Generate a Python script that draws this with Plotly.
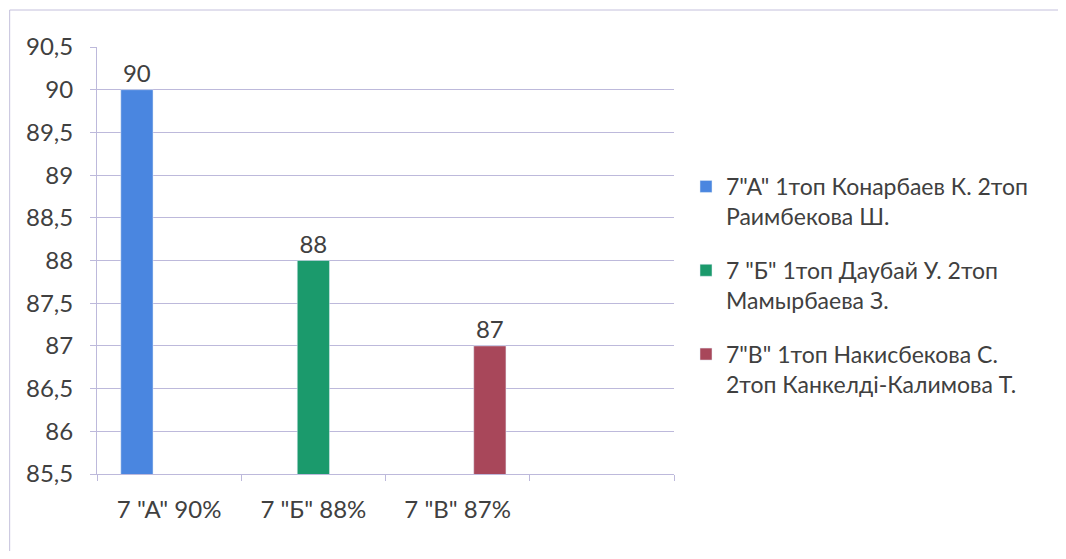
import plotly.graph_objects as go

categories = ['7 "А" 90%', '7 "Б" 88%', '7 "В" 87%', ' ']
series_names = [
    '7"А" 1топ Конарбаев К. 2топ<br>Раимбекова Ш.',
    '7 "Б" 1топ Даубай У. 2топ<br>Мамырбаева З.',
    '7"В" 1топ Накисбекова С.<br>2топ Канкелді-Калимова Т.',
]
series_values = [
    [90, None, None, None],
    [None, 88, None, None],
    [None, None, 87, None],
]
series_colors = ['#4a86e0', '#1b9a6c', '#a8475a']
y_tickvals = [85.5, 86, 86.5, 87, 87.5, 88, 88.5, 89, 89.5, 90, 90.5]
y_ticktext = ['85,5', '86', '86,5', '87', '87,5', '88', '88,5', '89', '89,5', '90', '90,5']

# page has 8px body margin; work in screen pixels, convert to figure pixels
OFF = 8
W, H = 1066 - OFF, 559 - 2 * OFF
plot_left, plot_right, plot_top, plot_bottom = 97, 685, 47, 474
L = plot_left - OFF
R = W - (plot_right - OFF)
T = plot_top - OFF
B = H - (plot_bottom - OFF)
grid = '#bdb9db'
font_fam = 'Lato, Open Sans, sans-serif'
txt = '#404040'

fig = go.Figure()
for i, (name, vals, col) in enumerate(zip(series_names, series_values, series_colors)):
    fig.add_trace(go.Bar(
        x=categories, y=vals, name=name, marker_color=col,
        legendgroup='g%d' % i,
        text=[('%g' % v) if v is not None else '' for v in vals],
        textposition='outside', textfont=dict(size=24, color=txt, family=font_fam),
        cliponaxis=False,
    ))

pw = plot_right - plot_left
ph = plot_bottom - plot_top
def px2x(p):
    return (p - plot_left) / pw
def px2y(p):
    return (plot_bottom - p) / ph

border = '#c4c0dc'
fig.update_layout(
    width=W, height=H,
    margin=dict(l=L, r=R, t=T, b=B),
    paper_bgcolor='white', plot_bgcolor='white',
    barmode='group', bargap=0.33, bargroupgap=0,
    separators=', ',
    font=dict(family=font_fam, size=24, color=txt),
    xaxis=dict(
        type='category', categoryorder='array', categoryarray=categories,
        showline=True, linecolor=grid, linewidth=1,
        ticks='outside', tickson='boundaries', ticklen=6, tickcolor=grid,
        showgrid=False, tickfont=dict(size=24, color=txt), fixedrange=True,
        ticklabelstandoff=14,
    ),
    yaxis=dict(
        range=[85.5, 90.5], tickvals=y_tickvals, ticktext=y_ticktext,
        showline=True, linecolor=grid, linewidth=1,
        ticks='outside', ticklen=6, tickcolor=grid,
        showgrid=True, gridcolor=grid, gridwidth=1, zeroline=False,
        tickfont=dict(size=24, color=txt), ticklabelstandoff=12,
    ),
    legend=dict(
        xref='container', yref='container',
        x=(686 - OFF) / W, y=1 - (165 - OFF) / H, xanchor='left', yanchor='top',
        font=dict(size=23, color=txt, family=font_fam),
        tracegroupgap=21, itemwidth=30, bgcolor='rgba(0,0,0,0)', valign='top',
    ),
    showlegend=True,
    shapes=[
        dict(type='line', xref='paper', yref='paper',
             x0=px2x(8), x1=px2x(1080), y0=px2y(10), y1=px2y(10),
             line=dict(color=border, width=1), layer='below'),
        dict(type='line', xref='paper', yref='paper',
             x0=px2x(8), x1=px2x(8), y0=px2y(10), y1=px2y(580),
             line=dict(color=border, width=1), layer='below'),
    ],
)

fig.write_html('out.html')
